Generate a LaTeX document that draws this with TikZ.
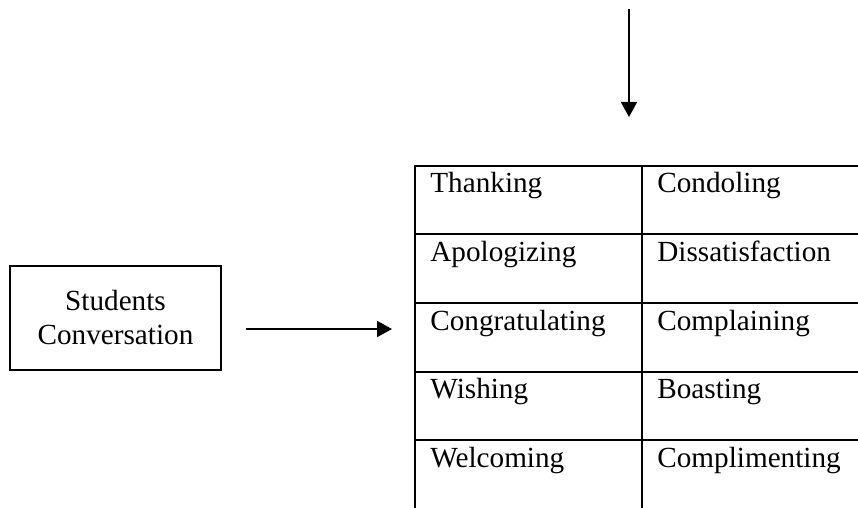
\documentclass[tikz,border=0pt]{standalone}
\usepackage{fontspec}
\setmainfont{Liberation Serif}
\usetikzlibrary{arrows.meta,positioning}

\begin{document}
\begin{tikzpicture}[x=0.5pt, y=-0.5pt, >={Triangle[length=7.5pt,width=8pt]},
    rule/.style={line width=1pt},
    cell/.style={anchor=base west, inner sep=0pt, font=\fontsize{14.6}{17}\selectfont}]
    \useasboundingbox (0,0) rectangle (858,508);

    \node[draw, line width=1pt, minimum width=105.5pt, minimum height=52pt, align=center, font=\fontsize{14.6}{17}\selectfont] (conv) at (115.5,318) {Students\\Conversation};

    % table of speech acts
    \draw[rule] (858,166) -- (415,166) -- (415,508);
    \draw[rule] (642,166) -- (642,508);
    \draw[rule] (415,234) -- (858,234);
    \draw[rule] (415,303) -- (858,303);
    \draw[rule] (415,372) -- (858,372);
    \draw[rule] (415,440) -- (858,440);

    \node[cell] (thanking) at (430,193) {Thanking};
    \node[cell] (condoling) at (657,193) {Condoling};
    \node[cell] (apologizing) at (430,261.5) {Apologizing};
    \node[cell] (dissatisfaction) at (657,261.5) {Dissatisfaction};
    \node[cell] (congratulating) at (430,330) {Congratulating};
    \node[cell] (complaining) at (657,330) {Complaining};
    \node[cell] (wishing) at (430,398.5) {Wishing};
    \node[cell] (boasting) at (657,398.5) {Boasting};
    \node[cell] (welcoming) at (430,467) {Welcoming};
    \node[cell] (complimenting) at (657,467) {Complimenting};

    \coordinate (tblin) at (415,329);
    \coordinate (src) at (629,9);
    \coordinate (dst) at (629,117);

    \draw[->, rule, shorten <=12pt, shorten >=11.5pt] (conv.east |- tblin) -- (tblin);
    \draw[->, rule] (src) -- (dst);
  \end{tikzpicture}
\end{document}
